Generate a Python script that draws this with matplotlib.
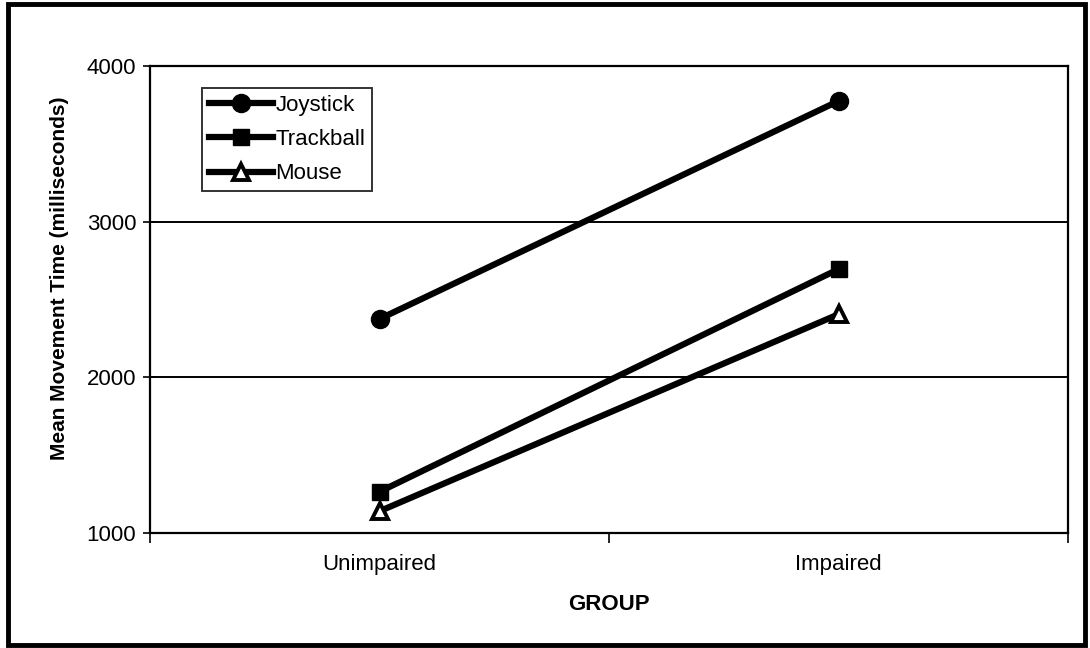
import matplotlib
matplotlib.use('Agg')
import matplotlib.pyplot as plt
from matplotlib.patches import Rectangle

plt.rcParams['font.family'] = ['Liberation Sans', 'DejaVu Sans']

groups = ['Unimpaired', 'Impaired']
joystick = [2375, 3775]
trackball = [1265, 2695]
mouse = [1140, 2405]

fig = plt.figure(figsize=(10.9, 6.48), dpi=100)
ax = fig.add_axes([150 / 1090, 1 - 533 / 648, 918 / 1090, 467 / 648])

x = [0, 1]
ax.plot(x, joystick, color='black', lw=4.5, marker='o', ms=13, label='Joystick')
ax.plot(x, trackball, color='black', lw=4.5, marker='s', ms=12, label='Trackball')
ax.plot(x, mouse, color='black', lw=4.5, marker='^', ms=11, mfc='white', mew=2.8, label='Mouse')

ax.set_xlim(-0.5, 1.5)
ax.set_ylim(1000, 4000)
ax.set_yticks([1000, 2000, 3000, 4000])
ax.yaxis.grid(True, color='black', lw=1.4)
ax.set_xticks(x)
ax.set_xticklabels(groups)
ax.set_xticks([-0.5, 0.5, 1.5], minor=True)
ax.tick_params(axis='x', which='major', length=0, labelsize=16, pad=15)
ax.tick_params(axis='x', which='minor', length=7, width=1.2, direction='out')
ax.tick_params(axis='y', length=10, width=1.2, direction='inout', labelsize=16, pad=5)
for s in ax.spines.values():
    s.set_linewidth(1.6)

ax.set_xlabel('GROUP', fontweight='bold', fontsize=16, labelpad=14)
ax.set_ylabel('Mean Movement Time (milliseconds)', fontweight='bold', fontsize=15)
ax.yaxis.set_label_coords(-0.088, 0.546)

leg = ax.legend(loc='upper left', bbox_to_anchor=(52 / 918, 1 - 22 / 467), frameon=True, fancybox=False,
                edgecolor='black', fontsize=16, handlelength=2.9, handletextpad=0.1,
                borderpad=0.3, labelspacing=0.6, borderaxespad=0)
leg.get_frame().set_linewidth(1.4)

fig.patches.append(Rectangle((8 / 1090, 3 / 648), 1077 / 1090, 641 / 648, transform=fig.transFigure,
                             fill=False, edgecolor='black', lw=3.5))

fig.savefig('out.png', dpi=100)
